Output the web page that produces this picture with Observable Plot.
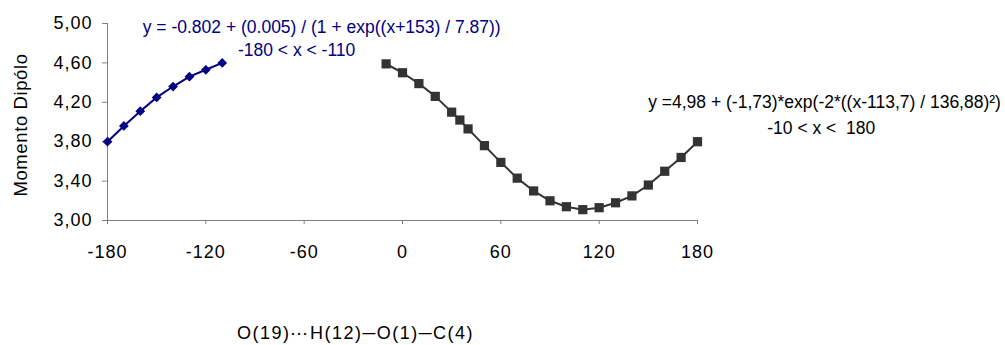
<!DOCTYPE html>
<html>
<head>
<meta charset="utf-8">
<script src="https://cdn.jsdelivr.net/npm/d3@7"></script>
<script src="https://cdn.jsdelivr.net/npm/@observablehq/plot@0.6"></script>
<style>
  html, body { margin: 0; padding: 0; background: #fff; }
  #chart svg { display: block; }
</style>
</head>
<body>
<div id="chart"></div>
<script>
// Series 1 (blue diamonds): -180 < x < -110
const xBlue = [-180, -170, -160, -150, -140, -130, -120, -110];
const yBlue = [3.80, 3.96, 4.11, 4.25, 4.36, 4.46, 4.53, 4.60];

// Series 2 (dark squares): -10 < x < 180
const xBlack = [-10, 0, 10, 20, 30, 35, 40, 50, 60, 70, 80, 90, 100, 110, 120, 130, 140, 150, 160, 170, 180];
const yBlack = [4.59, 4.50, 4.39, 4.26, 4.10, 4.02, 3.93, 3.76, 3.59, 3.43, 3.30, 3.20, 3.14, 3.11, 3.13, 3.18, 3.25, 3.36, 3.50, 3.64, 3.80];

const xTicks = [-180, -120, -60, 0, 60, 120, 180];
const yTicks = [3.00, 3.40, 3.80, 4.20, 4.60, 5.00];

const yLabel = "Momento Dipólo";
const xLabel = "O(19)\u22EFH(12)\u2500O(1)\u2500C(4)";

const blueEq = ["y = -0.802 + (0.005) / (1 + exp((x+153) / 7.87))", "-180 < x < -110"];
const blackEq = ["y =4,98 + (-1,73)*exp(-2*((x-113,7) / 136,88)\u00B2)", "-10 < x <  180"];

const blue = xBlue.map((x, i) => ({x, y: yBlue[i]}));
const black = xBlack.map((x, i) => ({x, y: yBlack[i]}));

const blueColor = "#000080";
const blackColor = "#333333";
const axisColor = "#808080";

const fmt = d => d.toFixed(2).replace(".", ",");

const chart = Plot.plot({
  width: 1005,
  height: 345,
  marginLeft: 107,
  marginRight: 308,
  marginTop: 23,
  marginBottom: 125,
  style: {fontFamily: "'Liberation Sans', Arial, sans-serif", fontSize: "17.5px", color: "#000", background: "#fff"},
  x: {domain: [-180, 180]},
  y: {domain: [3, 5]},
  marks: [
    Plot.ruleY([3], {stroke: axisColor, strokeWidth: 1}),
    Plot.ruleX([-180], {stroke: axisColor, strokeWidth: 1}),
    Plot.axisX({ticks: xTicks, tickSize: 4, tickPadding: 21, stroke: axisColor, fill: "#000", fontSize: 18, tickFormat: d => String(d), label: null}),
    Plot.axisY({ticks: yTicks, tickSize: 5, tickPadding: 10, stroke: axisColor, fill: "#000", fontSize: 18, tickFormat: fmt, label: null}),
    Plot.text([yLabel], {frameAnchor: "left", dx: -86, dy: 3, rotate: -90, text: d => d, fill: "#000", fontSize: 18.5, textAnchor: "middle"}),
    Plot.line(blue, {x: "x", y: "y", stroke: blueColor, strokeWidth: 2}),
    Plot.dot(blue, {x: "x", y: "y", symbol: "diamond2", r: 4.4, fill: blueColor, stroke: "none"}),
    Plot.line(black, {x: "x", y: "y", stroke: blackColor, strokeWidth: 2}),
    Plot.dot(black, {x: "x", y: "y", symbol: "square", r: 5.2, fill: blackColor, stroke: "none"}),
    Plot.text([blueEq[0]], {x: -49.3, y: 4.962, text: d => d, fill: blueColor, fontSize: 17.5, textAnchor: "middle"}),
    Plot.text([blueEq[1]], {x: -64.6, y: 4.728, text: d => d, fill: blueColor, fontSize: 17.5, textAnchor: "middle"}),
    Plot.text([blackEq[0]], {x: 149.9, y: 4.202, text: d => d, fill: "#000", fontSize: 17.5, textAnchor: "start"}),
    Plot.text([blackEq[1]], {x: 255.5, y: 3.94, text: d => d, fill: "#000", fontSize: 17.5, textAnchor: "middle"}),
    Plot.text([xLabel], {x: -28.7, y: 3, dy: 113, text: d => d, fill: "#000", fontSize: 18, textAnchor: "middle"})
  ]
});
document.getElementById("chart").appendChild(chart);
const svg = d3.select(chart);
svg.selectAll('g[aria-label="x-axis tick label"] text, g[aria-label="y-axis tick label"] text').attr("letter-spacing", "1px");
svg.selectAll("text").filter(function () { return this.textContent === yLabel; }).attr("letter-spacing", "0.6px");
svg.selectAll("text").filter(function () { return this.textContent === xLabel; }).attr("letter-spacing", "1.5px");
</script>
</body>
</html>
